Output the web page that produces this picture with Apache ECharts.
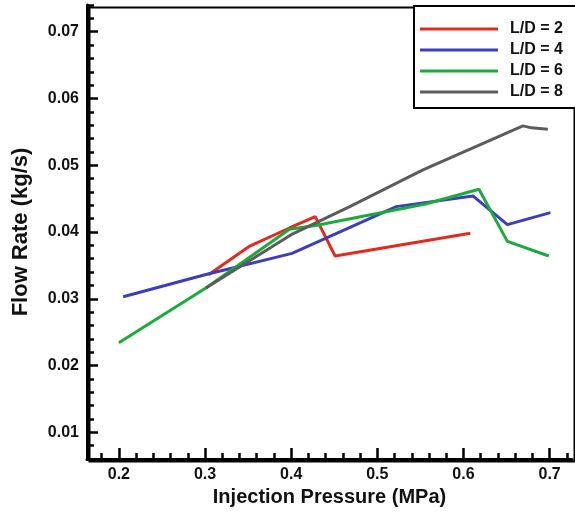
<!DOCTYPE html>
<html><head><meta charset="utf-8">
<script src="https://cdn.jsdelivr.net/npm/echarts@6/dist/echarts.min.js"></script>
<style>html,body{margin:0;padding:0;background:#fff}#c{width:575px;height:513px}</style>
</head><body><div id="c"></div>
<script>
const seriesNames = ['L/D = 2', 'L/D = 4', 'L/D = 6', 'L/D = 8'];
const seriesColors = ['#e42a1e', '#3d3dbf', '#1bab3c', '#5c5c5c'];
const ld2 = [[0.304,0.0336],[0.352,0.0379],[0.398,0.0406],[0.428,0.0423],[0.451,0.0364],[0.608,0.0398]];
const ld4 = [[0.205,0.0303],[0.300,0.0336],[0.401,0.0368],[0.522,0.0438],[0.611,0.0454],[0.651,0.0411],[0.701,0.0429]];
const ld6 = [[0.200,0.0234],[0.301,0.0316],[0.398,0.0404],[0.430,0.0410],[0.556,0.0442],[0.618,0.0464],[0.651,0.0386],[0.699,0.0364]];
const ld8 = [[0.301,0.0316],[0.400,0.0396],[0.468,0.0438],[0.553,0.0493],[0.669,0.0559],[0.679,0.0556],[0.698,0.0554]];
const xRange = [0.163, 0.726];
const yRange = [0.006, 0.074];
const xMajor = {min: 0.2, max: 0.7, step: 0.1};
const xMinor = {min: 0.18, max: 0.72, step: 0.02};
const yMajor = {min: 0.01, max: 0.07, step: 0.01};
const yMinorStep = 0.002;

const FONT = 'Liberation Sans, Arial, sans-serif';
const G = {left: 87, right: 3, top: 5, bottom: 54, W: 575, H: 513};
const plotW = G.W - G.left - G.right, plotH = G.H - G.top - G.bottom;
const px = v => G.left + (v - xRange[0]) / (xRange[1] - xRange[0]) * plotW;
const py = v => G.top + (yRange[1] - v) / (yRange[1] - yRange[0]) * plotH;

const chart = echarts.init(document.getElementById('c'), null, {renderer: 'canvas'});
const dataSets = [ld2, ld4, ld6, ld8];
const hiddenAxis = (gi) => ({type: 'value', gridIndex: gi, show: false, min: 0, max: 1});
const tickStyle = {color: '#000', width: 2.5};
const labelStyle = {fontFamily: FONT, fontWeight: 'bold', fontSize: 16, color: '#111'};

chart.setOption({
  animation: false,
  backgroundColor: '#fff',
  grid: [
    {left: G.left, right: G.right, top: G.top, bottom: G.bottom, show: false},
    {left: px(xMajor.min), right: G.W - px(xMajor.max), top: G.top, bottom: G.bottom, show: false},
    {left: px(xMinor.min), right: G.W - px(xMinor.max), top: G.top, bottom: G.bottom, show: false},
    {left: G.left, right: G.right, top: py(yMajor.max), bottom: G.H - py(yMajor.min), show: false}
  ],
  xAxis: [{
    type: 'value', gridIndex: 0, min: xRange[0], max: xRange[1], z: 10,
    name: 'Injection Pressure (MPa)', nameLocation: 'middle', nameGap: 28,
    nameTextStyle: {fontFamily: FONT, fontWeight: 'bold', fontSize: 20, color: '#111'},
    axisLine: {show: true, lineStyle: {color: '#000', width: 3}},
    axisTick: {show: false}, axisLabel: {show: false}, splitLine: {show: false}
  }, {
    type: 'value', gridIndex: 1, min: xMajor.min, max: xMajor.max, interval: xMajor.step, z: 10,
    axisLine: {show: false},
    axisTick: {show: true, inside: true, length: 11, lineStyle: tickStyle},
    axisLabel: Object.assign({show: true, margin: 8, formatter: v => v.toFixed(1)}, labelStyle),
    splitLine: {show: false}
  }, {
    type: 'value', gridIndex: 2, min: xMinor.min, max: xMinor.max, interval: xMinor.step, z: 10,
    axisLine: {show: false},
    axisTick: {show: true, inside: true, length: 6, lineStyle: tickStyle},
    axisLabel: {show: false}, splitLine: {show: false}
  }, hiddenAxis(3)],
  yAxis: [{
    type: 'value', gridIndex: 0, min: yRange[0], max: yRange[1], interval: yMinorStep, z: 10,
    name: 'Flow Rate (kg/s)', nameLocation: 'middle', nameGap: 55, nameRotate: 90,
    nameTextStyle: {fontFamily: FONT, fontWeight: 'bold', fontSize: 22, color: '#111'},
    axisLine: {show: true, lineStyle: {color: '#000', width: 3}},
    axisTick: {show: true, inside: true, length: 7, lineStyle: tickStyle},
    axisLabel: {show: false}, splitLine: {show: false}
  }, hiddenAxis(1), hiddenAxis(2), {
    type: 'value', gridIndex: 3, min: yMajor.min, max: yMajor.max, interval: yMajor.step, z: 10,
    axisLine: {show: false},
    axisTick: {show: true, inside: true, length: 11, lineStyle: tickStyle},
    axisLabel: Object.assign({show: true, margin: 8, formatter: v => v.toFixed(2)}, labelStyle),
    splitLine: {show: false}
  }],
  legend: {
    orient: 'vertical', left: 420, top: 21, padding: 0,
    icon: 'rect', itemWidth: 78, itemHeight: 3, itemGap: 5,
    data: seriesNames,
    textStyle: {fontFamily: FONT, fontWeight: 'bold', fontSize: 16, lineHeight: 16, color: '#111', padding: [0, 0, 0, 7]},
    z: 20
  },
  graphic: [{
    type: 'rect', left: G.left, top: G.top, z: 1, silent: true,
    shape: {width: plotW, height: plotH},
    style: {fill: 'none', stroke: '#000', lineWidth: 2}
  }, {
    type: 'rect', left: 413, top: 5, z: 15,
    shape: {width: 175, height: 102},
    style: {fill: '#fff', stroke: '#000', lineWidth: 2}
  }],
  series: dataSets.map((d, i) => ({
    name: seriesNames[i], type: 'line', data: d, xAxisIndex: 0, yAxisIndex: 0,
    symbol: 'none', smooth: false,
    lineStyle: {color: seriesColors[i], width: 3},
    itemStyle: {color: seriesColors[i]}
  }))
});
</script></body></html>
